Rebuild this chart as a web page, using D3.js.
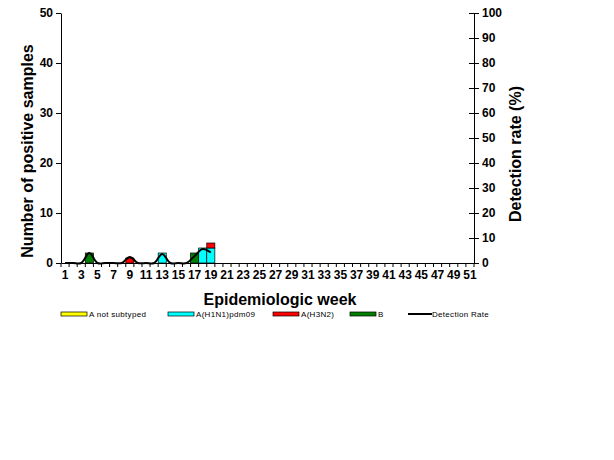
<!doctype html>
<html>
<head>
<meta charset="utf-8">
<title>Influenza positives</title>
<style>
body { margin: 0; background: #fff; }
svg { display: block; font-family: "Liberation Sans", Arial, sans-serif; }
.tick text { font-weight: bold; font-size: 12px; }
</style>
</head>
<body>
<svg width="614" height="460"></svg>
<script src="https://cdn.jsdelivr.net/npm/d3@7"></script>
<script>
// data
var weeks = d3.range(1, 52);
var notSubtyped = weeks.map(function() { return 0; });
var h1n1 = [0,0,0,0,0,0,0,0,0,0,0,0,2,0,0,0,0,3,3].concat(d3.range(20, 52).map(function() { return 0; }));
var h3n2 = [0,0,0,0,0,0,0,0,1,0,0,0,0,0,0,0,0,0,1].concat(d3.range(20, 52).map(function() { return 0; }));
var fluB = [0,0,0,2,0,0,0,0,0,0,0,0,0,0,0,0,2,0,0].concat(d3.range(20, 52).map(function() { return 0; }));
var detectionRate = [0,0,0,4,0,0,0,0,2.4,0,0,0,3.6,0,0,0,2.8,5.6,4.2];
var leftTicks = [0, 10, 20, 30, 40, 50];
var rightTicks = [0, 10, 20, 30, 40, 50, 60, 70, 80, 90, 100];

var series = [
    { key: "notSubtyped", name: "A not subtyped", color: "#ffff00", values: notSubtyped },
    { key: "h1n1", name: "A(H1N1)pdm09", color: "#00ffff", values: h1n1 },
    { key: "h3n2", name: "A(H3N2)", color: "#ff0000", values: h3n2 },
    { key: "b", name: "B", color: "#008000", values: fluB }
];

var svg = d3.select("svg"),
    margin = { top: 13, right: 140, bottom: 197, left: 61 },
    width = +svg.attr("width") - margin.left - margin.right,
    height = +svg.attr("height") - margin.top - margin.bottom,
    g = svg.append("g").attr("transform", "translate(" + margin.left + "," + margin.top + ")");

var x = d3.scaleBand().domain(weeks).range([0, width]).padding(0);
var y = d3.scaleLinear().domain([0, 50]).range([height, 0]);
var yR = d3.scaleLinear().domain([0, 100]).range([height, 0]);

var rows = weeks.map(function(w, i) {
    var r = { week: w };
    series.forEach(function(s) { r[s.key] = s.values[i]; });
    return r;
});
var stack = d3.stack().keys(series.map(function(s) { return s.key; }));
var stacked = stack(rows);

g.selectAll(".layer")
    .data(stacked)
    .enter().append("g")
    .attr("fill", function(d, i) { return series[i].color; })
    .selectAll("rect")
    .data(function(d) { return d.filter(function(p) { return p[1] - p[0] > 0; }); })
    .enter().append("rect")
    .attr("x", function(d) { return x(d.data.week); })
    .attr("y", function(d) { return y(d[1]); })
    .attr("width", x.bandwidth())
    .attr("height", function(d) { return y(d[0]) - y(d[1]); })
    .attr("stroke", "#000")
    .attr("stroke-width", 0.7);

// detection rate line
var line = d3.line()
    .x(function(d, i) { return x(weeks[i]) + x.bandwidth() / 2; })
    .y(function(d) { return yR(d); })
    .curve(d3.curveCatmullRom.alpha(0.5));

g.append("path")
    .datum(detectionRate)
    .attr("fill", "none")
    .attr("stroke", "#000")
    .attr("stroke-width", 2)
    .attr("d", line);

// axes
var yAxis = g.append("g").call(d3.axisLeft(y).tickValues(leftTicks).tickSize(5).tickSizeOuter(0));
var yAxisR = g.append("g").attr("transform", "translate(" + width + ",0)")
    .call(d3.axisRight(yR).tickValues(rightTicks).tickSize(5).tickSizeOuter(0));
yAxisR.selectAll(".tick line").attr("x1", -5);
yAxisR.selectAll(".tick text").attr("x", 8);
yAxis.selectAll(".tick text").attr("x", -8);

var xAxis = g.append("g").attr("transform", "translate(0," + height + ")")
    .call(d3.axisBottom(x).tickValues(weeks.filter(function(w) { return w % 2 === 1; })).tickSize(0).tickSizeOuter(0));
xAxis.selectAll(".tick text").attr("dy", "0.71em").attr("y", 7);
// category boundary tick marks
xAxis.selectAll(".bound")
    .data(weeks.concat([52]))
    .enter().append("line")
    .attr("x1", function(w) { return w === 52 ? width : x(w); })
    .attr("x2", function(w) { return w === 52 ? width : x(w); })
    .attr("y1", 0).attr("y2", 4)
    .attr("stroke", "#000");

svg.selectAll(".domain").attr("stroke", "#000");

// titles
svg.append("text")
    .attr("x", 280).attr("y", 305)
    .attr("text-anchor", "middle")
    .attr("font-size", 16).attr("font-weight", "bold")
    .text("Epidemiologic week");

svg.append("text")
    .attr("transform", "translate(33,151) rotate(-90)")
    .attr("text-anchor", "middle")
    .attr("font-size", 16).attr("font-weight", "bold")
    .text("Number of positive samples");

svg.append("text")
    .attr("transform", "translate(521,154) rotate(-90)")
    .attr("text-anchor", "middle")
    .attr("font-size", 16).attr("font-weight", "bold")
    .text("Detection rate (%)");

// legend
var legendX = [61, 168, 273, 350, 408];
var legendItems = series.map(function(s) { return { name: s.name, color: s.color, type: "bar" }; })
    .concat([{ name: "Detection Rate", color: "#000", type: "line" }]);
var leg = svg.append("g").selectAll("g")
    .data(legendItems)
    .enter().append("g")
    .attr("transform", function(d, i) { return "translate(" + legendX[i] + ",314)"; });
leg.filter(function(d) { return d.type === "bar"; }).append("rect")
    .attr("x", 0).attr("y", -2).attr("width", 26).attr("height", 4)
    .attr("fill", function(d) { return d.color; })
    .attr("stroke", "#000").attr("stroke-width", 0.7);
leg.filter(function(d) { return d.type === "line"; }).append("line")
    .attr("x1", 0).attr("x2", 24).attr("y1", 0).attr("y2", 0)
    .attr("stroke", "#000").attr("stroke-width", 2);
leg.append("text")
    .attr("x", function(d) { return d.type === "line" ? 24 : 28; })
    .attr("y", 3)
    .attr("font-size", 8)
    .attr("letter-spacing", 0.3)
    .text(function(d) { return d.name; });
</script>
</body>
</html>
